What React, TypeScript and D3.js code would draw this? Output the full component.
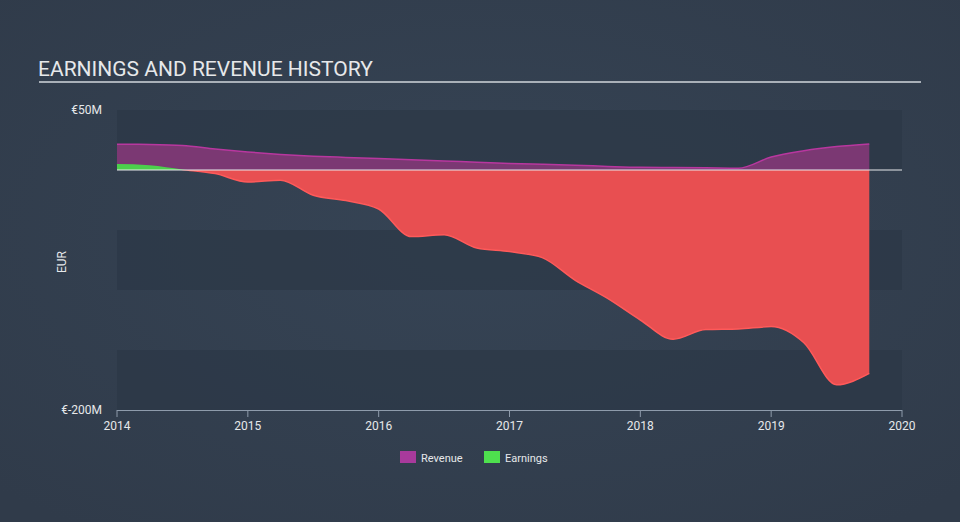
import * as d3 from 'd3';

const periods = [
  2014.0, 2014.25, 2014.5, 2014.75, 2015.0, 2015.25, 2015.5, 2015.75,
  2016.0, 2016.25, 2016.5, 2016.75, 2017.0, 2017.25, 2017.5, 2017.75,
  2018.0, 2018.25, 2018.5, 2018.75, 2019.0, 2019.25, 2019.5, 2019.75,
];
const revenue = [
  21.5, 21.3, 20.5, 17.5, 15, 13, 11.5, 10.5,
  9.5, 8.5, 7.5, 6.5, 5.5, 4.8, 4, 3,
  2.2, 2, 1.8, 1.5, 10.8, 16, 19.5, 21.7,
];
const earnings = [
  5, 4, 0.5, -3, -10, -8.5, -21, -25.5,
  -32.5, -55.5, -54, -65, -68, -73, -91.7, -107,
  -125, -141, -133, -132.5, -130.5, -144, -179, -169.5,
];
const yearTicks = [2014, 2015, 2016, 2017, 2018, 2019, 2020];
const valueBands = [50, 0, -50, -100, -150, -200];
const legendItems = [
  { name: 'Revenue', color: '#a83a9c' },
  { name: 'Earnings', color: '#4ee04e' },
];

const W = 960;
const H = 522;
const plot = { left: 117, right: 902, top: 110, bottom: 410 };
const font = 'Roboto, "Open Sans", sans-serif';

export default function App() {
  const x = d3.scaleLinear().domain([2014, 2020]).range([plot.left, plot.right]);
  const y = d3.scaleLinear().domain([-200, 50]).range([plot.bottom, plot.top]);

  const revArea = d3.area<number>()
    .x((_, i) => x(periods[i]))
    .y0(y(0))
    .y1((d) => y(d))
    .curve(d3.curveMonotoneX);
  const revLine = d3.line<number>()
    .x((_, i) => x(periods[i]))
    .y((d) => y(d))
    .curve(d3.curveMonotoneX);
  const earnArea = d3.area<number>()
    .x((_, i) => x(periods[i]))
    .y0(y(0))
    .y1((d) => y(d))
    .curve(d3.curveMonotoneX);
  const earnLine = d3.line<number>()
    .x((_, i) => x(periods[i]))
    .y((d) => y(d))
    .curve(d3.curveMonotoneX);

  const zero = y(0);

  return (
    <svg width={W} height={H} style={{ position: 'absolute', left: 0, top: 0 }}>
      <defs>
        <radialGradient id="bg" cx="50%" cy="45%" r="70%">
          <stop offset="0%" stopColor="#364455" />
          <stop offset="100%" stopColor="#303b4a" />
        </radialGradient>
        <clipPath id="above">
          <rect x={0} y={0} width={W} height={zero} />
        </clipPath>
        <clipPath id="below">
          <rect x={0} y={zero} width={W} height={H - zero} />
        </clipPath>
      </defs>
      <rect x={0} y={0} width={W} height={H} fill="url(#bg)" />

      <text x={38} y={76} fill="#e6e8ea" fontFamily={font} fontSize={21}>
        EARNINGS AND REVENUE HISTORY
      </text>
      <line x1={39} x2={921} y1={82} y2={82} stroke="#a9b0b8" strokeWidth={2} />

      {valueBands.slice(0, -1).map((v, i) =>
        i % 2 === 0 ? (
          <rect
            key={v}
            x={plot.left}
            y={y(v)}
            width={plot.right - plot.left}
            height={y(valueBands[i + 1]) - y(v)}
            fill="#2c3847"
            opacity={0.75}
          />
        ) : null,
      )}

      <path d={revArea(revenue) ?? ''} fill="#7b3873" />
      <path d={revLine(revenue) ?? ''} fill="none" stroke="#b8379f" strokeWidth={1.5} />

      <g clipPath="url(#above)">
        <path d={earnArea(earnings) ?? ''} fill="#4ccf4c" />
      </g>
      <g clipPath="url(#below)">
        <path d={earnArea(earnings) ?? ''} fill="#e84f51" />
        <path d={earnLine(earnings) ?? ''} fill="none" stroke="#ff5a5a" strokeWidth={1.5} />
      </g>

      <line x1={plot.left} x2={plot.right} y1={zero} y2={zero} stroke="#e8eaec" strokeWidth={1} />

      <text x={102} y={y(50) + 4} textAnchor="end" fill="#e6e8ea" fontFamily={font} fontSize={12}>
        €50M
      </text>
      <text x={102} y={y(-200) + 4} textAnchor="end" fill="#e6e8ea" fontFamily={font} fontSize={12}>
        €-200M
      </text>
      <text
        transform={`translate(66,${(plot.top + plot.bottom) / 2 + 2}) rotate(-90)`}
        textAnchor="middle"
        fill="#e6e8ea"
        fontFamily={font}
        fontSize={12}
      >
        EUR
      </text>

      <line x1={plot.left} x2={plot.right} y1={plot.bottom + 0.5} y2={plot.bottom + 0.5} stroke="#8e9bab" strokeWidth={1} />
      {yearTicks.map((t) => (
        <g key={t} transform={`translate(${x(t)},${plot.bottom})`}>
          <line y1={0} y2={7} stroke="#8e9bab" strokeWidth={1} />
          <text y={20} textAnchor="middle" fill="#e6e8ea" fontFamily={font} fontSize={12}>
            {t}
          </text>
        </g>
      ))}

      {legendItems.map((item, i) => (
        <g key={item.name} transform={`translate(${400 + i * 84},451)`}>
          <rect width={16} height={12} fill={item.color} />
          <text x={21} y={10.5} fill="#e6e8ea" fontFamily={font} fontSize={11}>
            {item.name}
          </text>
        </g>
      ))}
    </svg>
  );
}
